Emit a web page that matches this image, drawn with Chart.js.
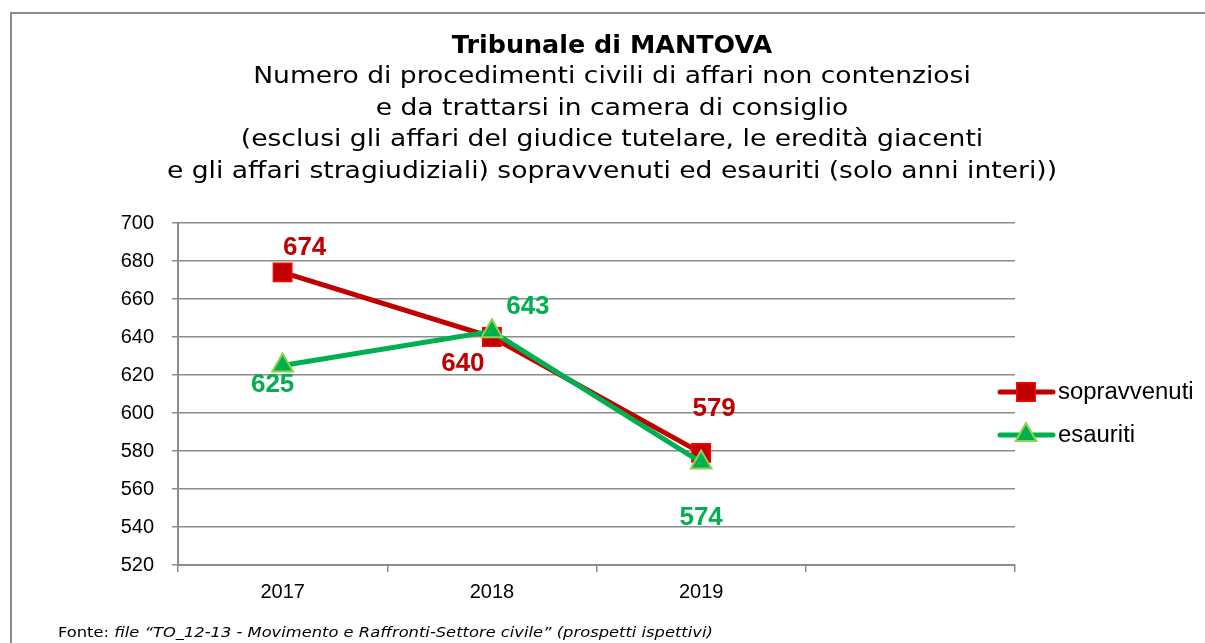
<!DOCTYPE html>
<html>
<head>
<meta charset="utf-8">
<script src="https://cdn.jsdelivr.net/npm/chart.js@4"></script>
<style>
  html, body { margin: 0; padding: 0; background: #fff; }
  #wrap { width: 1205px; height: 643px; position: relative; }
</style>
</head>
<body>
<div id="wrap"><canvas id="chart" width="1205" height="643"></canvas></div>
<script>
// dati
const categories = ["2017", "2018", "2019", ""];
const sopravvenuti = [674, 640, 579];
const esauriti = [625, 643, 574];
const seriesNames = ["sopravvenuti", "esauriti"];
const titleText = "Tribunale di MANTOVA";
const subtitleLines = [
    "Numero di procedimenti civili di affari non contenziosi",
    "e da trattarsi in camera di consiglio",
    "(esclusi gli affari del giudice tutelare, le eredità giacenti",
    "e gli affari stragiudiziali) sopravvenuti ed esauriti (solo anni interi))"
];
const footerLabel = "Fonte: ";
const footerText = "file \u201cTO_12-13 - Movimento e Raffronti-Settore civile\u201d (prospetti ispettivi)";

// posizione delle etichette rispetto al punto
const labelOffsets = [
    [[22, -25], [-29, 27], [13, -44]],
    [[-10, 19], [36, -24], [0, 55]]
];

const RED = "#C00000";
const GREEN = "#00B050";

// testo allargato in orizzontale (il grafico originale è stirato)
function drawStretched(ctx, text, x, y, sx, align) {
    ctx.save();
    ctx.translate(x, y);
    ctx.scale(sx, 1);
    ctx.textAlign = align;
    ctx.fillText(text, 0, 0);
    ctx.restore();
}

// cornice
const framePlugin = {
    id: "frame",
    beforeDraw(chart) {
        const ctx = chart.ctx;
        ctx.save();
        ctx.fillStyle = "#fff";
        ctx.fillRect(0, 0, chart.width, chart.height);
        ctx.strokeStyle = "#8c8c8c";
        ctx.lineWidth = 2;
        ctx.strokeRect(11, 13, 1300, 800);
        ctx.restore();
    }
};

// titolo e sottotitolo
const titlePlugin = {
    id: "titles",
    afterDraw(chart) {
        const ctx = chart.ctx;
        ctx.save();
        ctx.fillStyle = "#000";
        ctx.textBaseline = "alphabetic";
        ctx.font = "bold 24px 'DejaVu Sans', Verdana, sans-serif";
        drawStretched(ctx, titleText, 612, 53, 1.06, "center");
        ctx.font = "23px 'DejaVu Sans', Verdana, sans-serif";
        subtitleLines.forEach((line, i) => {
            drawStretched(ctx, line, 612, 83 + i * 31.6, 1.155, "center");
        });
        ctx.restore();
    }
};

// etichette dei valori
const valueLabelsPlugin = {
    id: "valueLabels",
    afterDatasetsDraw(chart) {
        const ctx = chart.ctx;
        ctx.save();
        ctx.font = "bold 26px 'Liberation Sans', Arial, sans-serif";
        ctx.textAlign = "center";
        ctx.textBaseline = "middle";
        chart.data.datasets.forEach((ds, i) => {
            const meta = chart.getDatasetMeta(i);
            ctx.fillStyle = ds.borderColor;
            meta.data.forEach((pt, j) => {
                const off = labelOffsets[i][j];
                ctx.fillText(String(ds.data[j]), pt.x + off[0], pt.y + off[1]);
            });
        });
        ctx.restore();
    }
};

// legenda a destra
const legendPlugin = {
    id: "customLegend",
    afterDraw(chart) {
        const ctx = chart.ctx;
        const rows = [392, 435];
        ctx.save();
        chart.data.datasets.forEach((ds, i) => {
            const y = rows[i];
            ctx.strokeStyle = ds.borderColor;
            ctx.lineWidth = 5;
            ctx.lineCap = "round";
            ctx.beginPath();
            ctx.moveTo(1000, y);
            ctx.lineTo(1053, y);
            ctx.stroke();
            ctx.fillStyle = ds.pointBackgroundColor;
            ctx.strokeStyle = ds.pointBorderColor;
            ctx.lineWidth = ds.pointBorderWidth;
            Chart.helpers.drawPoint(ctx, { pointStyle: ds.pointStyle, radius: ds.pointRadius, borderWidth: ds.pointBorderWidth }, 1026, y);
            ctx.fillStyle = "#000";
            ctx.font = "23px 'Liberation Sans', Arial, sans-serif";
            ctx.textBaseline = "middle";
            drawStretched(ctx, seriesNames[i], 1058, y + 1, 1.04, "left");
        });
        ctx.restore();
    }
};

// fonte
const footerPlugin = {
    id: "footer",
    afterDraw(chart) {
        const ctx = chart.ctx;
        const sx = 1.165;
        ctx.save();
        ctx.fillStyle = "#000";
        ctx.textBaseline = "alphabetic";
        ctx.font = "14px 'DejaVu Sans', Verdana, sans-serif";
        drawStretched(ctx, footerLabel, 58, 637, sx, "left");
        const w = ctx.measureText(footerLabel).width * sx;
        ctx.font = "italic 14px 'DejaVu Sans', Verdana, sans-serif";
        drawStretched(ctx, footerText, 58 + w, 637, sx, "left");
        ctx.restore();
    }
};

const canvas = document.getElementById("chart");
new Chart(canvas, {
    type: "line",
    data: {
        labels: categories,
        datasets: [
            {
                label: seriesNames[0],
                data: sopravvenuti,
                borderColor: RED,
                borderWidth: 5,
                pointStyle: "rect",
                pointRadius: 13,
                pointBackgroundColor: RED,
                pointBorderColor: "#FF0000",
                pointBorderWidth: 1.5,
                tension: 0,
                order: 2
            },
            {
                label: seriesNames[1],
                data: esauriti,
                borderColor: GREEN,
                borderWidth: 5,
                pointStyle: "triangle",
                pointRadius: 12,
                pointBackgroundColor: GREEN,
                pointBorderColor: "#92D050",
                pointBorderWidth: 2,
                tension: 0,
                order: 1
            }
        ]
    },
    options: {
        responsive: false,
        animation: false,
        layout: { padding: { left: 0, right: 190, top: 223, bottom: 0 } },
        scales: {
            x: {
                offset: true,
                grid: {
                    offset: true,
                    drawOnChartArea: false,
                    drawTicks: true,
                    tickLength: 7,
                    color: "#8c8c8c",
                    lineWidth: 1.5
                },
                border: { color: "#8c8c8c", width: 2 },
                ticks: {
                    color: "#000",
                    padding: 8,
                    font: { family: "'Liberation Sans', Arial, sans-serif", size: 20 }
                },
                afterFit(scale) { scale.height = 78; }
            },
            y: {
                min: 520,
                max: 700,
                ticks: {
                    stepSize: 20,
                    color: "#000",
                    padding: 18,
                    font: { family: "'Liberation Sans', Arial, sans-serif", size: 20 }
                },
                grid: { color: "#8c8c8c", lineWidth: 1.5, tickLength: 6 },
                border: { color: "#8c8c8c", width: 2 },
                afterFit(scale) { scale.width = 178; }
            }
        },
        plugins: {
            legend: { display: false },
            tooltip: { enabled: false },
            title: { display: false }
        }
    },
    plugins: [framePlugin, titlePlugin, valueLabelsPlugin, legendPlugin, footerPlugin]
});
</script>
</body>
</html>
